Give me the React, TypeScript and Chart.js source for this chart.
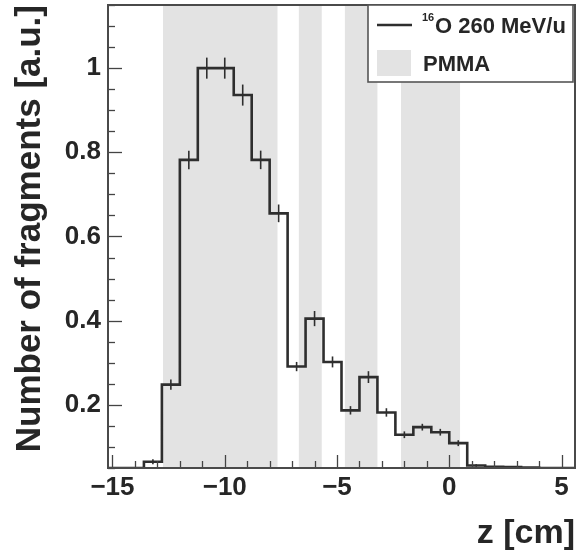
import React, { useEffect, useRef } from 'react';
import { Chart, registerables } from 'chart.js';

Chart.register(...registerables);

// ---- data ----
const binLowEdges = [-15.2, -14.4, -13.6, -12.8, -12.0, -11.2, -10.4, -9.6, -8.8, -8.0, -7.2, -6.4, -5.6, -4.8, -4.0, -3.2, -2.4, -1.6, -0.8, 0.0, 0.8, 1.6, 2.4, 3.2, 4.0, 4.8];
const binWidth = 0.8;
const fragmentCounts = [0.05, 0.05, 0.065, 0.248, 0.782, 1.0, 1.0, 0.936, 0.782, 0.655, 0.291, 0.405, 0.302, 0.187, 0.266, 0.182, 0.129, 0.147, 0.135, 0.109, 0.056, 0.053, 0.052, 0.051, 0.05, 0.05];
const fragmentErrors = [0, 0, 0.006, 0.012, 0.022, 0.025, 0.025, 0.025, 0.022, 0.021, 0.011, 0.018, 0.013, 0.01, 0.014, 0.01, 0.008, 0.008, 0.008, 0.007, 0.003, 0, 0, 0, 0, 0];
const pmmaStart = [-12.75, -6.7, -4.65, -2.15];
const pmmaEnd = [-7.65, -5.68, -3.2, 0.48];
const xTickLabels = [-15, -10, -5, 0, 5];
const yTickLabels = [0.2, 0.4, 0.6, 0.8, 1];
const seriesLabel = 'O 260 MeV/u';
const seriesSup = '16';
const bandLabel = 'PMMA';
const xTitle = 'z [cm]';
const yTitle = 'Number of fragments [a.u.]';

const FONT = "'Liberation Sans', Arial, Helvetica, sans-serif";
const INK = '#262626';
const LINE = '#2e2e2e';
const BAND = '#e3e3e3';

const decor = {
  id: 'rootDecor',
  beforeDatasetsDraw(chart: any) {
    const { ctx, chartArea: a, scales } = chart;
    const x = scales.x;
    ctx.save();
    ctx.fillStyle = BAND;
    pmmaStart.forEach((s, i) => {
      const x0 = x.getPixelForValue(s);
      const x1 = x.getPixelForValue(pmmaEnd[i]);
      ctx.fillRect(x0, a.top, x1 - x0, a.bottom - a.top);
    });
    ctx.restore();
  },
  afterDatasetsDraw(chart: any) {
    const { ctx, chartArea: a, scales } = chart;
    const x = scales.x;
    const y = scales.y;
    ctx.save();
    // error bars
    ctx.strokeStyle = LINE;
    ctx.lineWidth = 1.6;
    binLowEdges.forEach((lo, i) => {
      const e = fragmentErrors[i];
      if (!e) return;
      const cx = x.getPixelForValue(lo + binWidth / 2);
      ctx.beginPath();
      ctx.moveTo(cx, y.getPixelForValue(fragmentCounts[i] - e));
      ctx.lineTo(cx, y.getPixelForValue(fragmentCounts[i] + e));
      ctx.stroke();
    });
    // tick marks (inside)
    ctx.strokeStyle = '#444';
    ctx.lineWidth = 1.3;
    for (let v = Math.ceil(x.min); v <= x.max + 1e-9; v += 1) {
      const px = Math.round(x.getPixelForValue(v)) + 0.5;
      const len = v % 5 === 0 ? 13 : 7;
      ctx.beginPath();
      ctx.moveTo(px, a.bottom);
      ctx.lineTo(px, a.bottom - len);
      ctx.stroke();
    }
    for (let k = 1; k * 0.05 <= y.max + 1e-9; k++) {
      const v = k * 0.05;
      if (v < y.min - 1e-9) continue;
      const py = Math.round(y.getPixelForValue(v)) + 0.5;
      const len = k % 4 === 0 ? 14 : 7;
      ctx.beginPath();
      ctx.moveTo(a.left, py);
      ctx.lineTo(a.left + len, py);
      ctx.stroke();
    }
    ctx.restore();
  },
  afterDraw(chart: any) {
    const { ctx, chartArea: a } = chart;
    ctx.save();
    // frame
    ctx.strokeStyle = '#4a4a4a';
    ctx.lineWidth = 2;
    ctx.strokeRect(a.left, a.top, a.right - a.left, a.bottom - a.top);
    // legend box
    const bx = a.right - 207;
    const by = a.top;
    const bw = 205;
    const bh = 77;
    ctx.fillStyle = '#ffffff';
    ctx.fillRect(bx, by, bw, bh);
    ctx.strokeStyle = '#555';
    ctx.lineWidth = 1.6;
    ctx.strokeRect(bx, by, bw, bh);
    // line sample
    ctx.strokeStyle = LINE;
    ctx.lineWidth = 2.5;
    ctx.beginPath();
    ctx.moveTo(bx + 9, by + 20);
    ctx.lineTo(bx + 44, by + 20);
    ctx.stroke();
    ctx.fillStyle = INK;
    ctx.textBaseline = 'alphabetic';
    ctx.textAlign = 'left';
    ctx.font = `bold 11px ${FONT}`;
    ctx.fillText(seriesSup, bx + 54, by + 16);
    ctx.font = `bold 22px ${FONT}`;
    ctx.fillText(seriesLabel, bx + 67, by + 28);
    // band sample
    ctx.fillStyle = BAND;
    ctx.fillRect(bx + 9, by + 45, 34, 26);
    ctx.fillStyle = INK;
    ctx.font = `bold 22px ${FONT}`;
    ctx.fillText(bandLabel, bx + 55, by + 66);
    ctx.restore();
  },
};

function fmt(v: number): string {
  const r = Math.round(v * 100) / 100;
  const s = String(Math.abs(r));
  return r < 0 ? '\u2212' + s : s;
}

export default function App() {
  const ref = useRef<HTMLCanvasElement | null>(null);
  useEffect(() => {
    if (!ref.current) return;
    const points = binLowEdges.map((lo, i) => ({ x: lo, y: fragmentCounts[i] }));
    points.push({
      x: binLowEdges[binLowEdges.length - 1] + binWidth,
      y: fragmentCounts[fragmentCounts.length - 1],
    });
    const tickFont = { family: FONT, size: 26, weight: 'bold' as const, lineHeight: 1.2 };
    const chart = new Chart(ref.current, {
      type: 'line',
      data: {
        datasets: [
          {
            label: seriesSup + seriesLabel,
            data: points,
            stepped: 'before',
            borderColor: LINE,
            borderWidth: 2.6,
            pointRadius: 0,
            fill: false,
          },
        ],
      },
      plugins: [decor],
      options: {
        animation: false,
        responsive: false,
        devicePixelRatio: 1,
        layout: { padding: { top: 5, right: 2, left: 0, bottom: 0 } },
        plugins: { legend: { display: false }, tooltip: { enabled: false } },
        scales: {
          x: {
            type: 'linear',
            min: -15.2,
            max: 5.6,
            grid: { display: false, drawTicks: false },
            border: { display: false },
            afterBuildTicks: (s: any) => {
              s.ticks = xTickLabels.map((v) => ({ value: v }));
            },
            afterFit: (s: any) => {
              s.height = 91;
              s.paddingLeft = 0;
              s.paddingRight = 0;
            },
            ticks: {
              color: INK,
              font: tickFont,
              padding: 4,
              maxRotation: 0,
              autoSkip: false,
              callback: (v: any) => fmt(Number(v)),
            },
            title: {
              display: true,
              text: xTitle,
              align: 'end',
              color: INK,
              font: { family: FONT, size: 34, weight: 'bold', lineHeight: 1.2 },
              padding: { top: 0, bottom: 5 },
            },
          },
          y: {
            type: 'linear',
            min: 0.05,
            max: 1.15,
            grid: { display: false, drawTicks: false },
            border: { display: false },
            afterBuildTicks: (s: any) => {
              s.ticks = yTickLabels.map((v) => ({ value: v }));
            },
            afterFit: (s: any) => {
              s.width = 108;
              s.paddingTop = 0;
              s.paddingBottom = 0;
            },
            ticks: {
              color: INK,
              font: tickFont,
              padding: 7,
              autoSkip: false,
              callback: (v: any) => fmt(Number(v)),
            },
            title: {
              display: true,
              text: yTitle,
              align: 'end',
              color: INK,
              font: { family: FONT, size: 35, weight: 'bold', lineHeight: 1.2 },
              padding: { top: 9, bottom: 0 },
            },
          },
        },
      },
    } as any);
    return () => chart.destroy();
  }, []);
  return (
    <div style={{ position: 'absolute', left: 0, top: 0, width: 577, height: 559, background: '#fff' }}>
      <canvas ref={ref} width={577} height={559} style={{ display: 'block', width: 577, height: 559 }} />
    </div>
  );
}
